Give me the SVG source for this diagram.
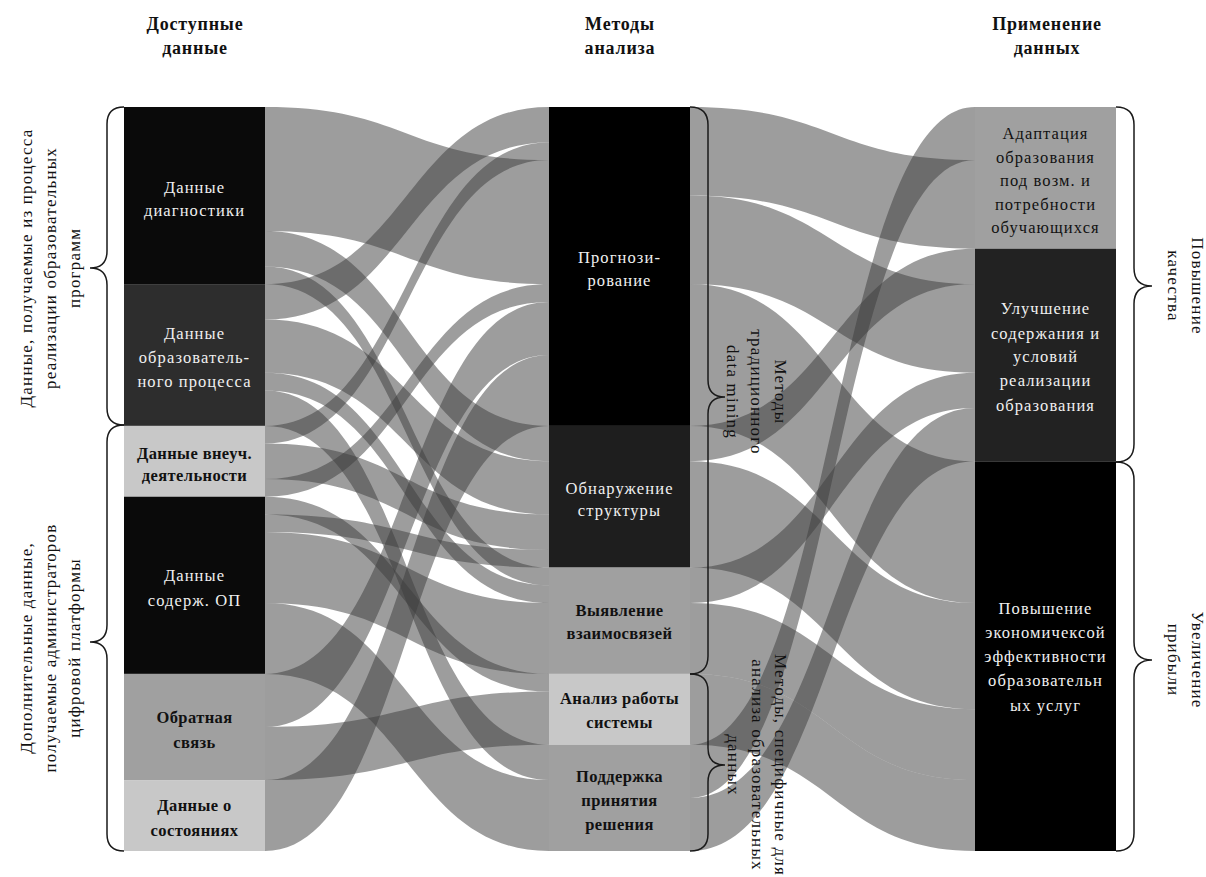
<svg xmlns="http://www.w3.org/2000/svg" width="1206" height="877" viewBox="0 0 1206 877">
<style>
.hdr{font-family:"Liberation Serif","Times New Roman",serif;font-size:18px;font-weight:bold;fill:#111;text-anchor:middle;letter-spacing:0.8px}
.lbl{font-family:"Liberation Serif","Times New Roman",serif;font-size:16.5px;text-anchor:middle;letter-spacing:1.1px}
.w{fill:#f0f0f0}
.k{fill:#111}
.b{font-weight:bold;letter-spacing:0.4px}
.side{font-family:"Liberation Serif","Times New Roman",serif;font-size:17px;fill:#111;text-anchor:middle;letter-spacing:1.2px}
.flow{fill:#3c3c3c;fill-opacity:0.5}
.brace{fill:none;stroke:#1a1a1a;stroke-width:1.5}
</style>
<rect width="1206" height="877" fill="#fff"/>
<g id="headers">
<text class="hdr"><tspan x="195" y="30">Доступные</tspan><tspan x="195" y="54">данные</tspan></text>
<text class="hdr"><tspan x="620" y="30">Методы</tspan><tspan x="620" y="54">анализа</tspan></text>
<text class="hdr"><tspan x="1047" y="30">Применение</tspan><tspan x="1047" y="54">данных</tspan></text>
</g>
<g id="connectors">
<path class="flow" d="M265,107 C407,107 407,160.1 549,160.1 L549,284.1 C407,284.1 407,231 265,231 Z"/>
<path class="flow" d="M265,231 C407,231 407,425.9 549,425.9 L549,461.3 C407,461.3 407,266.4 265,266.4 Z"/>
<path class="flow" d="M265,266.4 C407,266.4 407,567.6 549,567.6 L549,585.3 C407,585.3 407,284.1 265,284.1 Z"/>
<path class="flow" d="M265,284.1 C407,284.1 407,107 549,107 L549,142.4 C407,142.4 407,319.6 265,319.6 Z"/>
<path class="flow" d="M265,319.6 C407,319.6 407,461.3 549,461.3 L549,514.4 C407,514.4 407,372.7 265,372.7 Z"/>
<path class="flow" d="M265,372.7 C407,372.7 407,585.3 549,585.3 L549,603 C407,603 407,390.4 265,390.4 Z"/>
<path class="flow" d="M265,390.4 C407,390.4 407,744.7 549,744.7 L549,780.1 C407,780.1 407,425.9 265,425.9 Z"/>
<path class="flow" d="M265,425.9 C407,425.9 407,142.4 549,142.4 L549,160.1 C407,160.1 407,443.6 265,443.6 Z"/>
<path class="flow" d="M265,443.6 C407,443.6 407,514.4 549,514.4 L549,549.9 C407,549.9 407,479 265,479 Z"/>
<path class="flow" d="M265,479 C407,479 407,284.1 549,284.1 L549,301.9 C407,301.9 407,496.7 265,496.7 Z"/>
<path class="flow" d="M265,496.7 C407,496.7 407,673.9 549,673.9 L549,691.6 C407,691.6 407,514.4 265,514.4 Z"/>
<path class="flow" d="M265,514.4 C407,514.4 407,549.9 549,549.9 L549,567.6 C407,567.6 407,532.1 265,532.1 Z"/>
<path class="flow" d="M265,532.1 C407,532.1 407,603 549,603 L549,673.9 C407,673.9 407,603 265,603 Z"/>
<path class="flow" d="M265,603 C407,603 407,780.1 549,780.1 L549,851 C407,851 407,673.9 265,673.9 Z"/>
<path class="flow" d="M265,673.9 C407,673.9 407,301.9 549,301.9 L549,355 C407,355 407,727 265,727 Z"/>
<path class="flow" d="M265,727 C407,727 407,691.6 549,691.6 L549,744.7 C407,744.7 407,780.1 265,780.1 Z"/>
<path class="flow" d="M265,780.1 C407,780.1 407,355 549,355 L549,425.9 C407,425.9 407,851 265,851 Z"/>
<path class="flow" d="M690,107 C832.5,107 832.5,160.1 975,160.1 L975,248.7 C832.5,248.7 832.5,195.6 690,195.6 Z"/>
<path class="flow" d="M690,195.6 C832.5,195.6 832.5,284.1 975,284.1 L975,372.7 C832.5,372.7 832.5,284.1 690,284.1 Z"/>
<path class="flow" d="M690,284.1 C832.5,284.1 832.5,461.3 975,461.3 L975,603 C832.5,603 832.5,425.9 690,425.9 Z"/>
<path class="flow" d="M690,425.9 C832.5,425.9 832.5,248.7 975,248.7 L975,284.1 C832.5,284.1 832.5,461.3 690,461.3 Z"/>
<path class="flow" d="M690,461.3 C832.5,461.3 832.5,603 975,603 L975,709.3 C832.5,709.3 832.5,567.6 690,567.6 Z"/>
<path class="flow" d="M690,567.6 C832.5,567.6 832.5,372.7 975,372.7 L975,408.1 C832.5,408.1 832.5,603 690,603 Z"/>
<path class="flow" d="M690,603 C832.5,603 832.5,709.3 975,709.3 L975,780.1 C832.5,780.1 832.5,673.9 690,673.9 Z"/>
<path class="flow" d="M690,673.9 C832.5,673.9 832.5,780.1 975,780.1 L975,851 C832.5,851 832.5,744.7 690,744.7 Z"/>
<path class="flow" d="M690,744.7 C832.5,744.7 832.5,107 975,107 L975,160.1 C832.5,160.1 832.5,797.9 690,797.9 Z"/>
<path class="flow" d="M690,797.9 C832.5,797.9 832.5,408.1 975,408.1 L975,461.3 C832.5,461.3 832.5,851 690,851 Z"/>
</g>
<g id="n-diag"><rect x="124" y="107" width="141" height="177.1" fill="#0a0a0a"/><text class="lbl w"><tspan x="194.5" y="193">Данные</tspan><tspan x="194.5" y="216">диагностики</tspan></text></g>
<g id="n-obrproc"><rect x="124" y="284.1" width="141" height="141.8" fill="#2d2d2d"/><text class="lbl w"><tspan x="194.5" y="339">Данные</tspan><tspan x="194.5" y="363">образователь-</tspan><tspan x="194.5" y="387">ного процесса</tspan></text></g>
<g id="n-vneuch"><rect x="124" y="425.9" width="141" height="70.8" fill="#c8c8c8"/><text class="lbl k b"><tspan x="194.5" y="459">Данные внеуч.</tspan><tspan x="194.5" y="481">деятельности</tspan></text></g>
<g id="n-soderzh"><rect x="124" y="496.7" width="141" height="177.2" fill="#0a0a0a"/><text class="lbl w"><tspan x="194.5" y="581">Данные</tspan><tspan x="194.5" y="606">содерж. ОП</tspan></text></g>
<g id="n-obrsvyaz"><rect x="124" y="673.9" width="141" height="106.2" fill="#a0a0a0"/><text class="lbl k b"><tspan x="194.5" y="723">Обратная</tspan><tspan x="194.5" y="748">связь</tspan></text></g>
<g id="n-sostoyan"><rect x="124" y="780.1" width="141" height="70.9" fill="#c8c8c8"/><text class="lbl k b"><tspan x="194.5" y="811">Данные о</tspan><tspan x="194.5" y="836">состояниях</tspan></text></g>
<g id="n-prognoz"><rect x="549" y="107" width="141" height="318.9" fill="#000"/><text class="lbl w"><tspan x="619.5" y="263">Прогнози-</tspan><tspan x="619.5" y="286">рование</tspan></text></g>
<g id="n-struct"><rect x="549" y="425.9" width="141" height="141.7" fill="#1e1e1e"/><text class="lbl w"><tspan x="619.5" y="494">Обнаружение</tspan><tspan x="619.5" y="516">структуры</tspan></text></g>
<g id="n-vzaim"><rect x="549" y="567.6" width="141" height="106.3" fill="#a0a0a0"/><text class="lbl k b"><tspan x="619.5" y="616">Выявление</tspan><tspan x="619.5" y="639">взаимосвязей</tspan></text></g>
<g id="n-analiz"><rect x="549" y="673.9" width="141" height="70.8" fill="#c8c8c8"/><text class="lbl k b"><tspan x="619.5" y="704">Анализ работы</tspan><tspan x="619.5" y="728">системы</tspan></text></g>
<g id="n-podderzh"><rect x="549" y="744.7" width="141" height="106.3" fill="#a0a0a0"/><text class="lbl k b"><tspan x="619.5" y="782">Поддержка</tspan><tspan x="619.5" y="806">принятия</tspan><tspan x="619.5" y="830">решения</tspan></text></g>
<g id="n-adapt"><rect x="975" y="107" width="141" height="141.7" fill="#a0a0a0"/><text class="lbl k"><tspan x="1045.5" y="139">Адаптация</tspan><tspan x="1045.5" y="163">образования</tspan><tspan x="1045.5" y="186">под возм. и</tspan><tspan x="1045.5" y="210">потребности</tspan><tspan x="1045.5" y="233">обучающихся</tspan></text></g>
<g id="n-uluch"><rect x="975" y="248.7" width="141" height="212.6" fill="#222"/><text class="lbl w"><tspan x="1045.5" y="314">Улучшение</tspan><tspan x="1045.5" y="339">содержания и</tspan><tspan x="1045.5" y="362">условий</tspan><tspan x="1045.5" y="386">реализации</tspan><tspan x="1045.5" y="411">образования</tspan></text></g>
<g id="n-econ"><rect x="975" y="461.3" width="141" height="389.7" fill="#000"/><text class="lbl w"><tspan x="1045.5" y="614">Повышение</tspan><tspan x="1045.5" y="638">экономичексой</tspan><tspan x="1045.5" y="662">эффективности</tspan><tspan x="1045.5" y="686">образовательн</tspan><tspan x="1045.5" y="711">ых услуг</tspan></text></g>
<g id="braces">
<path class="brace" d="M124,107 Q107,107 107,124 L107,251 Q107,268 90,268 Q107,268 107,285 L107,408 Q107,425 124,425"/>
<path class="brace" d="M124,425 Q107,425 107,442 L107,625 Q107,642 90,642 Q107,642 107,659 L107,834 Q107,851 124,851"/>
<path class="brace" d="M690,107 Q708,107 708,125 L708,380 Q708,397 725,397 Q708,397 708,414 L708,656 Q708,674 690,674"/>
<path class="brace" d="M690,674 Q708,674 708,691 L708,748 Q708,765 725,765 Q708,765 708,782 L708,834 Q708,851 690,851"/>
<path class="brace" d="M1116,107 Q1134,107 1134,125 L1134,268 Q1134,286 1152,286 Q1134,286 1134,304 L1134,444 Q1134,462 1116,462"/>
<path class="brace" d="M1116,462 Q1134,462 1134,480 L1134,642 Q1134,660 1152,660 Q1134,660 1134,678 L1134,833 Q1134,851 1116,851"/>
</g>
<g id="group-labels">
<text class="side" transform="translate(0,268) rotate(-90)"><tspan x="0" y="32">Данные, получаемые из процесса</tspan><tspan x="0" y="56">реализации образовательных</tspan><tspan x="0" y="80">программ</tspan></text>
<text class="side" transform="translate(0,648) rotate(-90)"><tspan x="0" y="32">Дополнительные данные,</tspan><tspan x="0" y="56">получаемые администраторов</tspan><tspan x="0" y="80">цифровой платформы</tspan></text>
<text class="side" transform="translate(0,392) rotate(90)"><tspan x="0" y="-775">Методы</tspan><tspan x="0" y="-751">традиционного</tspan><tspan x="0" y="-727">data mining</tspan></text>
<text class="side" transform="translate(0,765) rotate(90)"><tspan x="0" y="-775">Методы, специфичные для</tspan><tspan x="0" y="-752">анализа образовательных</tspan><tspan x="0" y="-728">данных</tspan></text>
<text class="side" transform="translate(0,286) rotate(90)"><tspan x="0" y="-1192">Повышение</tspan><tspan x="0" y="-1168">качества</tspan></text>
<text class="side" transform="translate(0,660) rotate(90)"><tspan x="0" y="-1192">Увеличение</tspan><tspan x="0" y="-1168">прибыли</tspan></text>
</g>
</svg>
